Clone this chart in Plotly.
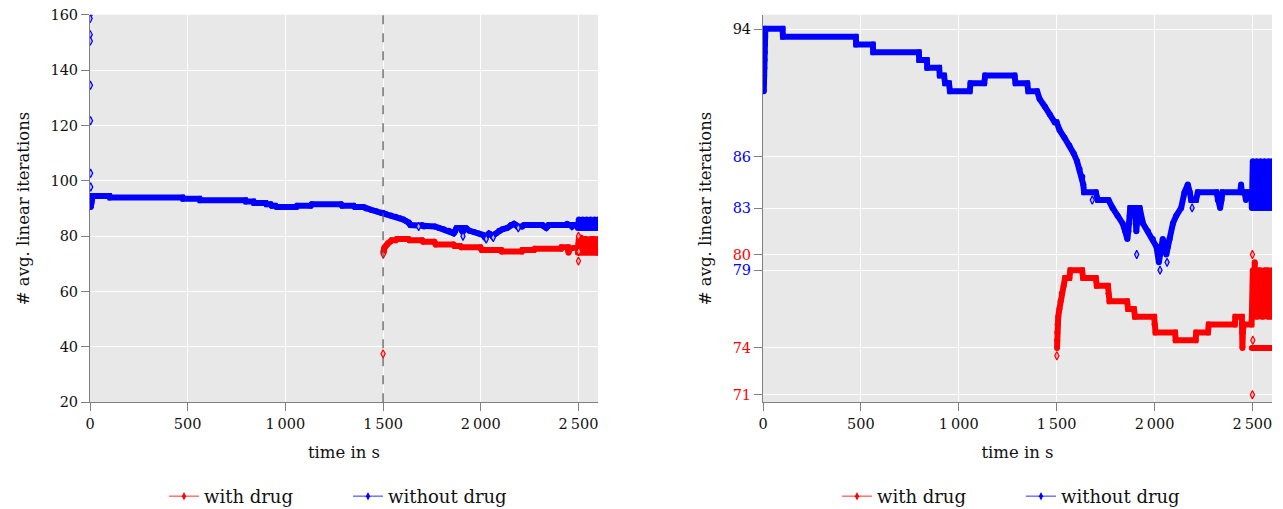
import plotly.graph_objects as go

# ---------------- data ----------------
time_ticks = [0, 500, 1000, 1500, 2000, 2500]
time_tick_text = ["0", "500", "1\u2009000", "1\u2009500", "2\u2009000", "2\u2009500"]
drug_start = 1500

left_y_ticks = [20, 40, 60, 80, 100, 120, 140, 160]
right_y_ticks = [70.98, 74.0, 79.0, 80.0, 82.98, 86.28, 94.48]
right_y_text = ["71", "74", "79", "80", "83", "86", "94"]
right_y_colors = ["#ff0000", "#ff0000", "#0000ff", "#ff0000", "#0000ff", "#0000ff", "#111111"]

# without drug (main band)
nodrug_t = [4, 5, 6, 7, 8, 9, 10, 11, 12, 100, 102, 474, 476, 561, 563, 796, 798,
            837, 839, 900, 903, 925, 930, 950, 955, 1056, 1060, 1130, 1135, 1285,
            1290, 1350, 1355, 1400, 1413, 1440, 1465, 1490, 1500, 1515, 1540, 1565,
            1587, 1604, 1617, 1631, 1636, 1640, 1700, 1710, 1765, 1786, 1811, 1837,
            1850, 1861, 1866, 1870, 1873, 1876, 1900, 1904, 1907, 1910, 1913, 1924,
            1941, 1966, 1991, 2010, 2022, 2035, 2042, 2055, 2060, 2068, 2077, 2094,
            2111, 2136, 2153, 2170, 2180, 2187, 2212, 2221, 2316, 2323, 2335, 2342,
            2347, 2438, 2442, 2446, 2460, 2467, 2475, 2495,
            2497, 2502, 2507, 2512, 2517, 2522, 2527, 2532, 2537, 2542, 2547, 2552,
            2557, 2562, 2567, 2572, 2577, 2582, 2587, 2592, 2597, 2600]
nodrug_v = [90.5, 91.0, 91.5, 92.0, 92.5, 93.0, 93.5, 94.0, 94.5, 94.5, 94.0, 94.0, 93.5,
            93.5, 93.0, 93.0, 92.5, 92.5, 92.0, 92.0, 91.5, 91.5, 91.0, 91.0, 90.5,
            90.5, 91.0, 91.0, 91.5, 91.5, 91.0, 91.0, 90.5, 90.5, 90.0, 89.5, 89.0,
            88.5, 88.5, 88.0, 87.5, 87.0, 86.5, 86.0, 85.5, 85.0, 84.5, 84.0, 84.0,
            83.5, 83.5, 83.0, 82.5, 82.0, 81.5, 81.0, 81.5, 82.0, 82.5, 83.0, 83.0,
            82.0, 81.5, 82.0, 83.0, 83.0, 82.0, 81.5, 81.0, 80.5, 79.5, 80.5, 81.0,
            80.5, 80.0, 80.5, 81.0, 82.0, 82.5, 83.0, 84.0, 84.5, 84.0, 83.5, 83.5,
            84.0, 84.0, 83.5, 83.0, 83.5, 84.0, 84.0, 84.5, 84.0, 84.0, 83.5, 84.0,
            84.0,
            83.0, 86.0, 83.0, 85.5, 83.0, 86.0, 83.0, 85.0, 83.0, 86.0, 83.0, 85.5,
            83.0, 86.0, 83.0, 85.0, 83.0, 86.0, 83.0, 85.5, 83.0, 86.0]
# without drug (isolated points)
nodrug_out_t = [0, 0.5, 1, 1.5, 2, 2.5, 3, 3.5, 1682, 1909, 2028, 2064, 2192]
nodrug_out_v = [159.9, 158.6, 152.8, 150.5, 134.5, 121.7, 102.7, 97.8,
                83.5, 80.0, 79.0, 79.5, 83.0]

# with drug (main band); None separates the two end groups
drug_t = [1502, 1502.5, 1503, 1505, 1508, 1514, 1520, 1526, 1536, 1543, 1565, 1570,
          1630, 1635, 1700, 1705, 1762, 1765, 1770, 1860, 1865, 1895, 1900, 1998,
          2000, 2005, 2105, 2108, 2210, 2213, 2273, 2277, 2410, 2413, 2446, 2448,
          2449, 2451, 2455, 2459, 2495,
          2497, 2502, 2507, 2512, 2517, 2522, 2527, 2532, 2537, 2542, 2547, 2552,
          2557, 2562, 2567, 2572, 2577, 2582, 2587, 2592, 2597, 2600,
          None, 2497, 2600]
drug_v = [74.0, 74.5, 75.0, 75.5, 76.0, 76.5, 77.0, 77.5, 78.0, 78.5, 78.5, 79.0,
          79.0, 78.5, 78.5, 78.0, 78.0, 77.5, 77.0, 77.0, 76.5, 76.5, 76.0, 76.0,
          75.5, 75.0, 75.0, 74.5, 74.5, 75.0, 75.0, 75.5, 75.5, 76.0, 76.0, 75.0,
          74.0, 75.0, 75.5, 75.5, 75.5,
          76.0, 79.0, 76.5, 79.5, 76.0, 78.5, 76.0, 79.0, 76.5, 79.0, 76.0, 78.5,
          76.0, 79.0, 76.5, 79.0, 76.0, 79.0, 76.0, 78.5, 76.0, 79.0,
          None, 74.0, 74.0]
# with drug (isolated points)
drug_out_t = [1500, 1501, 2500, 2500, 2502]
drug_out_v = [37.5, 73.5, 80.0, 71.0, 74.5]

# ---------------- styling ----------------
RED = "#ff0000"
BLUE = "#0000ff"
FONT = "DejaVu Serif"
W, H = 1283, 509
AXIS_GREY = "#808080"
BG = "#e8e8e8"

fig = go.Figure()

panels = [("x", "y", "legend"), ("x2", "y2", "legend2")]
for xa, ya, lg in panels:
    # legend-only entries
    fig.add_trace(go.Scatter(x=[None], y=[None], mode="lines+markers", name="with drug",
                             line=dict(color="rgba(255,0,0,0.55)", width=1.5),
                             marker=dict(symbol="diamond-tall", size=6, color=RED),
                             xaxis=xa, yaxis=ya, legend=lg, showlegend=True,
                             hoverinfo="skip"))
    fig.add_trace(go.Scatter(x=[None], y=[None], mode="lines+markers", name="without drug",
                             line=dict(color="rgba(0,0,255,0.55)", width=1.5),
                             marker=dict(symbol="diamond-tall", size=6, color=BLUE),
                             xaxis=xa, yaxis=ya, legend=lg, showlegend=True,
                             hoverinfo="skip"))
    for t, v, ot, ov, col, light in [
        (nodrug_t, nodrug_v, nodrug_out_t, nodrug_out_v, BLUE, "#b8b8ff"),
        (drug_t, drug_v, drug_out_t, drug_out_v, RED, "#ffb8b8"),
    ]:
        fig.add_trace(go.Scatter(x=t, y=v, mode="lines+markers", showlegend=False,
                                 line=dict(color=col, width=6),
                                 marker=dict(symbol="circle", size=6, color=col),
                                 connectgaps=False, xaxis=xa, yaxis=ya))
        fig.add_trace(go.Scatter(x=ot, y=ov, mode="markers", showlegend=False,
                                 marker=dict(symbol="diamond-tall", size=6, color=light,
                                             line=dict(color=col, width=1.2)),
                                 xaxis=xa, yaxis=ya))

common_x = dict(range=[0, 2600], tickmode="array", tickvals=time_ticks,
                ticktext=time_tick_text, showgrid=True, gridcolor="white", gridwidth=1,
                zeroline=False, showline=True, linecolor=AXIS_GREY, linewidth=1,
                ticks="outside", ticklen=8, tickcolor=AXIS_GREY, automargin=False,
                tickfont=dict(family=FONT, size=14.5, color="#111"),
                title=dict(text="time in s", font=dict(family=FONT, size=16.5, color="#111"),
                           standoff=15))
common_y = dict(showgrid=True, gridcolor="white", gridwidth=1, zeroline=False,
                showline=True, linecolor=AXIS_GREY, linewidth=1, ticks="outside",
                ticklen=8, tickcolor=AXIS_GREY, automargin=False,
                tickfont=dict(family=FONT, size=14.5, color="#111"),
                title=dict(text="# avg. linear iterations",
                           font=dict(family=FONT, size=16.5, color="#111"), standoff=16))

ydom = [(H - 402.3) / H, (H - 14.7) / H]

legend_common = dict(orientation="h", y=-6 / H, xanchor="center", yanchor="bottom",
                     font=dict(family=FONT, size=18, color="#111"),
                     bgcolor="rgba(0,0,0,0)", entrywidth=139, entrywidthmode="pixels")

fig.update_layout(
    width=W, height=H,
    margin=dict(l=0, r=0, t=0, b=0, autoexpand=False),
    paper_bgcolor="white",
    plot_bgcolor=BG,
    xaxis=dict(domain=[90 / W, 598 / W], anchor="y", **common_x),
    yaxis=dict(domain=ydom, anchor="x", range=[20, 160], tickmode="array",
               tickvals=left_y_ticks, **common_y),
    xaxis2=dict(domain=[763 / W, 1272 / W], anchor="y2", **common_x),
    yaxis2=dict(domain=ydom, anchor="x2", range=[70.51, 95.41], tickmode="array",
                tickvals=right_y_ticks,
                ticktext=[f'<span style="color:{c}">{s}</span>'
                          for s, c in zip(right_y_text, right_y_colors)],
                **common_y),
    legend=dict(x=348 / W, **legend_common),
    legend2=dict(x=1021 / W, **legend_common),
    shapes=[dict(type="line", xref="x", yref="y domain", x0=drug_start, x1=drug_start,
                 y0=0, y1=1, layer="above",
                 line=dict(color="#555555", width=1.2, dash="dash"))],
)

fig.write_html("out.html")
